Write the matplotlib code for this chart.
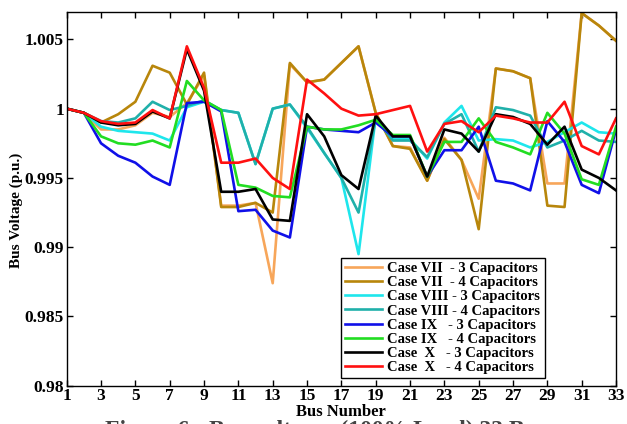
import matplotlib
import numpy as np

matplotlib.use("Agg")
import matplotlib.pyplot as plt

bus = list(range(1, 34))

case7_3cap = [1.0000, 0.9997, 0.9985, 0.9985, 0.9988, 0.9997, 0.9994, 1.0004, 1.0024, 0.9930,
              0.9930, 0.9932, 0.9874, 1.0032, 1.0019, 1.0021, 1.0033, 1.0045, 0.9997, 0.9973,
              0.9972, 0.9948, 0.9979, 0.9963, 0.9935, 1.0029, 1.0027, 1.0022, 0.9946, 0.9946,
              1.0069, 1.0060, 1.0049]
case7_4cap = [1.0000, 0.9997, 0.9990, 0.9996, 1.0005, 1.0031, 1.0026, 1.0003, 1.0026, 0.9929,
              0.9929, 0.9932, 0.9925, 1.0033, 1.0019, 1.0021, 1.0033, 1.0045, 0.9997, 0.9973,
              0.9971, 0.9948, 0.9978, 0.9963, 0.9913, 1.0029, 1.0027, 1.0022, 0.9930, 0.9929,
              1.0069, 1.0060, 1.0049]
case8_3cap = [1.0000, 0.9997, 0.9987, 0.9984, 0.9983, 0.9982, 0.9977, 1.0001, 1.0005, 0.9999,
              0.9997, 0.9960, 1.0000, 1.0003, 0.9986, 0.9968, 0.9950, 0.9895, 0.9994, 0.9978,
              0.9978, 0.9964, 0.9990, 1.0002, 0.9977, 0.9978, 0.9977, 0.9972, 0.9976, 0.9983,
              0.9990, 0.9983, 0.9982]
case8_4cap = [1.0000, 0.9997, 0.9991, 0.9990, 0.9993, 1.0005, 0.9999, 1.0002, 1.0006, 0.9999,
              0.9997, 0.9960, 1.0000, 1.0003, 0.9987, 0.9968, 0.9950, 0.9925, 0.9993, 0.9977,
              0.9977, 0.9965, 0.9989, 0.9996, 0.9969, 1.0001, 0.9999, 0.9995, 0.9972, 0.9977,
              0.9984, 0.9977, 0.9976]
case9_3cap = [1.0000, 0.9997, 0.9975, 0.9966, 0.9961, 0.9951, 0.9945, 1.0004, 1.0005, 0.9998,
              0.9926, 0.9927, 0.9912, 0.9907, 0.9987, 0.9985, 0.9984, 0.9983, 0.9990, 0.9980,
              0.9980, 0.9951, 0.9970, 0.9970, 0.9987, 0.9948, 0.9946, 0.9941, 0.9991, 0.9976,
              0.9945, 0.9939, 0.9985]
case9_4cap = [1.0000, 0.9997, 0.9980, 0.9975, 0.9974, 0.9977, 0.9972, 1.0020, 1.0006, 0.9999,
              0.9945, 0.9943, 0.9937, 0.9936, 0.9987, 0.9985, 0.9985, 0.9988, 0.9992, 0.9981,
              0.9981, 0.9951, 0.9976, 0.9976, 0.9993, 0.9976, 0.9972, 0.9967, 0.9997, 0.9982,
              0.9949, 0.9945, 0.9987]
case10_3cap = [1.0000, 0.9997, 0.9990, 0.9988, 0.9989, 0.9998, 0.9993, 1.0043, 1.0013, 0.9940,
               0.9940, 0.9942, 0.9920, 0.9919, 0.9996, 0.9980, 0.9952, 0.9942, 0.9995, 0.9980,
               0.9980, 0.9951, 0.9985, 0.9982, 0.9969, 0.9996, 0.9994, 0.9989, 0.9974, 0.9987,
               0.9956, 0.9950, 0.9941]
case10_4cap = [1.0000, 0.9997, 0.9991, 0.9989, 0.9990, 0.9999, 0.9993, 1.0045, 1.0015, 0.9961,
               0.9961, 0.9964, 0.9950, 0.9942, 1.0021, 1.0011, 1.0000, 0.9995, 0.9996, 0.9999,
               1.0002, 0.9969, 0.9989, 0.9991, 0.9983, 0.9995, 0.9993, 0.9990, 0.9990, 1.0005,
               0.9973, 0.9967, 0.9993]

labels = [
    "Case VII  - 3 Capacitors",
    "Case VII  - 4 Capacitors",
    "Case VIII - 3 Capacitors",
    "Case VIII - 4 Capacitors",
    "Case IX   - 3 Capacitors",
    "Case IX   - 4 Capacitors",
    "Case  X   - 3 Capacitors",
    "Case  X   - 4 Capacitors",
]
colors = ["#f7a65a", "#b8860b", "#1ee6ec", "#20b0aa", "#1010e8", "#22dd22", "#000000", "#ff1010"]

x_ticks = list(range(1, 34, 2))
y_ticks = [0.98, 0.985, 0.99, 0.995, 1.0, 1.005]
y_tick_labels = ["0.98", "0.985", "0.99", "0.995", "1", "1.005"]

plt.rcParams["font.family"] = ["Liberation Serif", "DejaVu Serif"]
plt.rcParams["font.weight"] = "bold"

fig = plt.figure(figsize=(6.27, 4.24), dpi=100)
ax = fig.add_axes([0.1064, 0.0903, 0.8761, 0.8821])

series = [case7_3cap, case7_4cap, case8_3cap, case8_4cap,
          case9_3cap, case9_4cap, case10_3cap, case10_4cap]
for values, label, color in zip(series, labels, colors):
    ax.plot(bus, values, color=color, linewidth=1.9, label=label)

ax.set_xlim(1, 33)
ax.set_ylim(0.98, 1.007)
ax.set_xticks(x_ticks)
ax.set_yticks(y_ticks)
ax.set_yticklabels(y_tick_labels)
ax.tick_params(direction="in", top=True, right=True, length=4, width=1.0,
               labelsize=12.5, pad=2)
for spine in ax.spines.values():
    spine.set_linewidth(1.0)

ax.set_xlabel("Bus Number", fontsize=12, fontweight="bold", labelpad=0)
ax.set_ylabel("Bus Voltage (p.u.)", fontsize=11, fontweight="bold")
ax.yaxis.set_label_coords(-0.08, 0.47)

legend = ax.legend(loc="lower left", bbox_to_anchor=(0.499, 0.02), borderaxespad=0,
                   fontsize=10.5, handlelength=2.5, labelspacing=0.06, handletextpad=0.4,
                   borderpad=0.3, fancybox=False, framealpha=1.0)
legend.get_frame().set_edgecolor("black")
legend.get_frame().set_linewidth(1.0)

fig.text(0.52, 0.010, "Figure 6:  Bus voltages (100% Load) 33 Bus", ha="center", va="top",
         fontsize=17, fontweight="bold", color="#444444")

fig.savefig("out.png", dpi=100)
